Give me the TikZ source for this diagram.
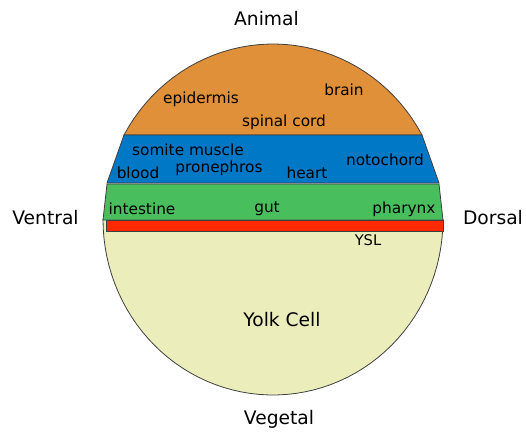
\documentclass[tikz,border=0pt]{standalone}
\usepackage{fontspec}
\setmainfont{DejaVu Sans}
\definecolor{ectoorange}{RGB}{224,144,56}
\definecolor{mesoblue}{RGB}{0,120,198}
\definecolor{endogreen}{RGB}{72,190,92}
\definecolor{yslred}{RGB}{255,42,0}
\definecolor{yolkcream}{RGB}{235,238,186}
\begin{document}
\begin{tikzpicture}[
    x=0.75pt, y=-0.75pt,
    band/.style={draw=black!75, line width=0.6pt},
    tissue/.style={font=\fontsize{11.5}{13}\selectfont, inner sep=0pt},
    axis/.style={font=\fontsize{14}{16}\selectfont, inner sep=0pt},
]
\useasboundingbox (0,0) rectangle (526,437);

% Ectoderm (animal cap)
\filldraw[band, fill=ectoorange] plot[domain=28.8:151.2, samples=40]
    ({273+170*cos(\x)},{219.5-175.5*sin(\x)}) -- cycle;

% Mesoderm
\filldraw[band, fill=mesoblue] (124,135) -- (422,135) -- (439,183) -- (107,183) -- cycle;

% Yolk cell
\filldraw[band, fill=yolkcream] plot[domain=180:360, samples=60]
    ({273+170*cos(\x)},{219.5-175.5*sin(\x)}) -- cycle;

% Endoderm
\filldraw[band, fill=endogreen] (107,184) -- (439,184) -- (443,220) -- (103,220) -- cycle;

% YSL
\filldraw[band, fill=yslred] (106,220) rectangle (443,231);

% Tissue labels
\node[tissue] (epidermis) at (201,99) {epidermis};
\node[tissue] (brain) at (344,90) {brain};
\node[tissue] (spinal) at (284,122) {spinal cord};
\node[tissue] (somite) at (188,150) {somite muscle};
\node[tissue] (blood) at (138,173) {blood};
\node[tissue] (proneph) at (219,168) {pronephros};
\node[tissue] (heart) at (307,173) {heart};
\node[tissue] (notochord) at (385,160) {notochord};
\node[tissue] (intestine) at (142,209) {intestine};
\node[tissue] (gut) at (267,209) {gut};
\node[tissue] (pharynx) at (404,209) {pharynx};
\node[tissue, font=\fontsize{11}{13}\selectfont] (ysl) at (368,240) {YSL};
\node[axis] (yolk) at (282,320) {Yolk Cell};

% Axes
\node[axis] (animal) at (266.5,19) {Animal};
\node[axis] (vegetal) at (279,419) {Vegetal};
\node[axis] (ventral) at (45.5,218) {Ventral};
\node[axis] (dorsal) at (493,218) {Dorsal};

\end{tikzpicture}
\end{document}
